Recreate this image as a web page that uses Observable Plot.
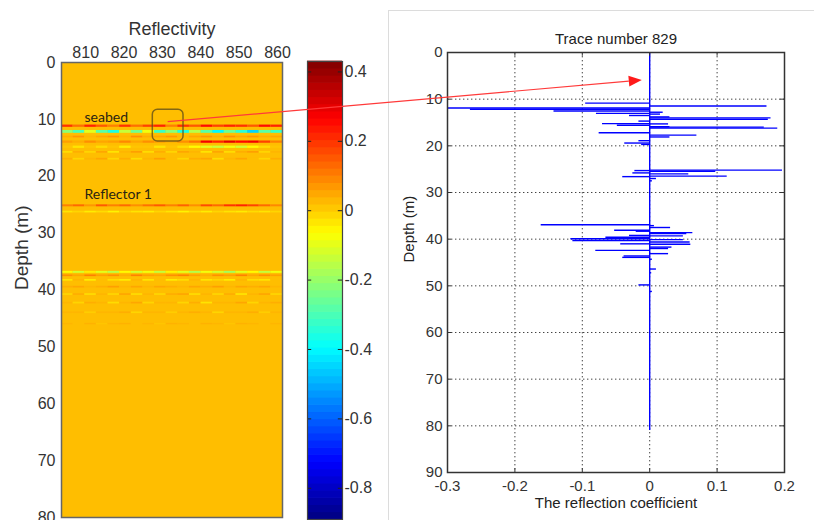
<!DOCTYPE html>
<html><head><meta charset="utf-8">
<script src="https://cdn.jsdelivr.net/npm/d3@7"></script>
<script src="https://cdn.jsdelivr.net/npm/@observablehq/plot@0.6"></script>
<style>
body{margin:0;background:#fff;}
#fig{position:relative;width:814px;height:520px;overflow:hidden;font-family:"Liberation Sans",Arial,sans-serif;}
#fig > *{position:absolute;}
</style></head><body><div id="fig"></div>
<script>
// ---------------- data ----------------
const traceNumber = 829;
const traceRange = [803.7, 861.3];
const depthRange = [0, 80];
const traceTicks = [810, 820, 830, 840, 850, 860];
const depthTicks = [0, 10, 20, 30, 40, 50, 60, 70, 80];
const backgroundReflectivity = 0.02;

// reflectivity section: horizontal streaks (depth, thickness, values across 19 trace segments)
const layerDepths    = [11.2, 12.2, 13.1, 14.0, 14.9, 15.8, 17.0, 25.2, 26.3, 36.9, 37.5, 38.3, 39.5, 40.8, 42.3, 44.0, 46.0];
const layerThickness = [0.4, 0.5, 0.3, 0.4, 0.4, 0.3, 0.3, 0.35, 0.3, 0.35, 0.3, 0.3, 0.3, 0.3, 0.3, 0.3, 0.25];
const layerValues = [
  [0.2,0.12,0.22,0.15,0.1,0.2,0.12,0.18,0.22,0.1,0.2,0.15,0.25,0.18,0.22,0.2,0.15,0.25,0.22],
  [-0.22,-0.3,-0.1,-0.28,-0.36,-0.14,-0.25,-0.08,-0.32,-0.22,-0.36,-0.16,-0.28,-0.4,-0.26,-0.34,-0.45,-0.28,-0.32],
  [0.04,0.07,0.03,0.05,0.07,0.03,0.08,0.04,0.05,0.07,0.03,0.05,0.07,0.04,0.08,0.05,0.07,0.04,0.05],
  [0.06,0.04,0.08,0.05,0.06,0.09,0.05,0.08,0.06,0.04,0.08,0.12,0.28,0.22,0.3,0.26,0.28,0.18,0.1],
  [0.01,-0.03,0.01,-0.02,0.01,-0.04,0.01,0.01,-0.03,0.01,-0.02,-0.06,-0.1,-0.13,-0.08,-0.12,-0.06,-0.02,0.01],
  [-0.02,0.04,-0.01,0.05,-0.03,0.03,0.06,-0.02,0.04,-0.01,0.05,0.03,-0.03,0.05,-0.02,0.04,0.06,-0.01,0.03],
  [0.04,-0.01,0.03,0.05,-0.01,0.04,-0.02,0.03,0.06,0.02,-0.01,0.04,0.05,-0.02,0.03,0.05,0.02,-0.01,0.04],
  [0.1,0.13,0.07,0.15,0.1,0.13,0.08,0.12,0.15,0.1,0.14,0.08,0.17,0.13,0.2,0.22,0.18,0.13,0.09],
  [-0.03,-0.01,-0.04,-0.02,-0.05,-0.01,-0.03,-0.04,-0.01,-0.03,-0.05,-0.02,-0.04,-0.01,-0.03,-0.04,-0.02,-0.03,-0.01],
  [-0.06,-0.12,-0.04,-0.1,-0.15,-0.06,-0.12,-0.08,-0.14,-0.05,-0.1,-0.16,-0.08,-0.12,-0.18,-0.1,-0.06,-0.14,-0.08],
  [0.08,0.05,0.1,0.06,0.08,0.04,0.1,0.06,0.05,0.08,0.1,0.06,0.04,0.08,0.06,0.1,0.05,0.08,0.06],
  [-0.03,0.03,-0.04,0.02,-0.02,-0.04,0.03,-0.03,0.02,-0.04,-0.02,0.03,-0.03,-0.01,-0.04,0.03,-0.02,-0.03,0.02],
  [0.04,0.05,0.03,0.04,0.06,0.03,0.05,0.03,0.05,0.04,0.03,0.05,0.04,0.06,0.03,0.05,0.04,0.05,0.03],
  [-0.01,0.04,-0.02,0.03,-0.01,0.05,-0.02,0.03,-0.01,0.04,0.05,-0.02,0.03,-0.01,0.04,-0.03,0.03,0.05,-0.01],
  [0.03,-0.01,0.04,0.03,-0.02,0.03,0.05,-0.01,0.03,0.03,-0.01,0.04,-0.03,0.03,0.03,0.05,-0.01,0.03,0.04],
  [0.03,0.03,0.0,0.03,0.03,0.04,-0.01,0.03,0.03,0.0,0.03,0.04,0.03,-0.01,0.03,0.03,0.04,0.0,0.03],
  [0.03,0.02,0.035,0.01,0.03,0.035,0.02,0.03,0.01,0.035,0.03,0.02,0.035,0.03,0.01,0.035,0.03,0.02,0.03]
];

// annotations on the section
const sectionLabels = ["seabed", "Reflector 1"];
const sectionLabelTrace = [809.7, 809.7];
const sectionLabelDepth = [9.6, 23.2];
const boxTrace = [827.5, 835.5];
const boxDepth = [8.3, 13.9];
const arrowFrom = {trace: 831.5, depth: 10.5};
const arrowTo = {coef: -0.011, depth: 6.0};

// colorbar
const colorDomain = [-0.89, 0.43];
const colorbarTicks = [-0.8, -0.6, -0.4, -0.2, 0, 0.2, 0.4];
const colorLevels = 64;
const jetStops = ["#000080","#0000ff","#0080ff","#00ffff","#80ff80","#ffff00","#ff8000","#ff0000","#800000"];

// trace 829 reflection coefficients
const spikeDepth = [10.85, 11.45, 11.9, 12.15, 12.55, 12.8, 13.05, 13.2, 13.5, 13.8, 14.0, 14.3, 14.7, 15.25, 15.3, 15.6, 15.9, 16.0, 16.2, 17.2, 17.7, 18.1, 18.9, 19.4, 19.7,
  25.2, 25.3, 25.45, 25.8, 26.0, 26.5, 26.6, 27.0, 27.5,
  36.9, 37.1, 37.5, 38.1, 38.3, 38.6, 38.8, 39.2, 39.3, 39.6, 39.9, 40.1, 40.3, 40.6, 41.0, 41.1, 41.7, 42.0, 42.4, 43.1, 43.6, 43.9, 44.3, 46.4, 47.2, 49.8, 51.2];
const spikeCoef = [-0.095, 0.174, -0.3, -0.266, -0.142, 0.02, -0.079, 0.016, -0.03, 0.03, 0.18, 0.176, -0.016, -0.07, 0.028, -0.048, 0.03, 0.17, 0.19, -0.075, 0.07, 0.03, -0.016, -0.037, -0.012,
  0.197, -0.022, 0.098, -0.025, 0.058, 0.115, -0.04, 0.01, 0.004,
  -0.161, 0.007, 0.031, -0.052, -0.02, 0.064, 0.055, -0.03, 0.05, -0.065, -0.117, 0.05, -0.114, 0.06, -0.043, 0.061, 0.033, 0.028, -0.08, 0.028, -0.038, -0.04, 0.004, 0.01, 0.003, -0.016, 0.004];
const traceEndDepth = 81;
const coefRange = [-0.3, 0.2];
const coefTicks = [-0.3, -0.2, -0.1, 0, 0.1, 0.2];
const traceDepthRange = [0, 90];
const traceDepthTicks = [0, 10, 20, 30, 40, 50, 60, 70, 80, 90];

// ---------------- build ----------------
const fig = document.getElementById("fig");
const FONT = "'Liberation Sans', Arial, sans-serif";
const jet = d3.piecewise(d3.interpolateRgb, jetStops);
const colorOpts = {type: "linear", domain: colorDomain, interpolate: jet};

const nSeg = layerValues[0].length;
const segW = (traceRange[1] - traceRange[0]) / nSeg;
const cells = layerDepths.flatMap((d, i) => layerValues[i].map((v, j) => ({
  x1: traceRange[0] + j * segW, x2: traceRange[0] + (j + 1) * segW,
  y1: d - layerThickness[i] / 2, y2: d + layerThickness[i] / 2, v
})));

const heat = Plot.plot({
  width: 300, height: 520,
  marginLeft: 61, marginRight: 18, marginTop: 62, marginBottom: 3,
  x: {domain: traceRange, axis: "top", ticks: traceTicks, tickSize: 0, tickPadding: 5, label: null},
  y: {domain: depthRange, reverse: true, ticks: depthTicks, tickSize: 0, tickPadding: 6, label: null},
  color: colorOpts,
  style: {fontSize: "16px", fontFamily: FONT, color: "#333", background: "transparent", overflow: "visible"},
  marks: [
    Plot.rect([backgroundReflectivity], {x1: () => traceRange[0], x2: () => traceRange[1], y1: () => depthRange[0], y2: () => depthRange[1], fill: d => d}),
    Plot.rect(cells, {x1: "x1", x2: "x2", y1: "y1", y2: "y2", fill: "v"}),
    Plot.rect([0], {x1: () => boxTrace[0], x2: () => boxTrace[1], y1: () => boxDepth[0], y2: () => boxDepth[1], rx: 5, fill: "none", stroke: "#5a4a1a", strokeOpacity: 0.75, strokeWidth: 1.5}),
    Plot.text(sectionLabels, {x: (d, i) => sectionLabelTrace[i], y: (d, i) => sectionLabelDepth[i], text: d => d, textAnchor: "start", fontSize: 14, fontFamily: "Lato, 'Open Sans', sans-serif", fill: "#2a2412"}),
    Plot.frame({stroke: "#666", strokeWidth: 1.5}),
    Plot.text(["Reflectivity"], {frameAnchor: "top", dy: -40, fontSize: 18, fill: "#333"}),
    Plot.text(["Depth (m)"], {frameAnchor: "left", rotate: -90, dx: -40, fontSize: 19, fill: "#333"})
  ]
});
heat.style.left = "0px"; heat.style.top = "0px";
fig.appendChild(heat);

const step = (colorDomain[1] - colorDomain[0]) / colorLevels;
const levels = d3.range(colorLevels).map(i => colorDomain[0] + (i + 0.5) * step);
const cbar = Plot.plot({
  width: 100, height: 520,
  marginLeft: 17, marginRight: 48, marginTop: 61, marginBottom: 1,
  x: {domain: [0, 1], axis: null},
  y: {domain: colorDomain, axis: "right", ticks: colorbarTicks, tickSize: 0, tickPadding: 2, tickFormat: d => String(d), label: null},
  color: colorOpts,
  style: {fontSize: "16px", fontFamily: FONT, color: "#333", background: "transparent", overflow: "visible"},
  marks: [
    Plot.rect(levels, {x1: () => 0, x2: () => 1, y1: d => d - step / 2 - 0.001, y2: d => d + step / 2 + 0.001, fill: d => d}),
    Plot.ruleY(colorbarTicks, {y: d => d, x1: () => 0, x2: () => 0.12, stroke: "#222"}),
    Plot.ruleY(colorbarTicks, {y: d => d, x1: () => 0.88, x2: () => 1, stroke: "#222"}),
    Plot.frame({stroke: "#444", strokeWidth: 1.2})
  ]
});
cbar.style.left = "290px"; cbar.style.top = "0px";
fig.appendChild(cbar);

// right panel border
const border = document.createElement("div");
Object.assign(border.style, {left: "388px", top: "10px", width: "440px", height: "520px", border: "1px solid #dcdcdc"});
fig.appendChild(border);

const spikes = spikeDepth.map((d, i) => ({depth: d, coef: spikeCoef[i]}));
const xGrid = coefTicks.slice(1, -1);
const yGrid = traceDepthTicks.slice(1, -1);
const tickLenX = (coefRange[1] - coefRange[0]) * 0.012;
const tickLenY = (traceDepthRange[1] - traceDepthRange[0]) * 0.009;
const dotted = {stroke: "#222", strokeOpacity: 0.85, strokeDasharray: "1.4,2.6", strokeWidth: 1};
const trace = Plot.plot({
  width: 424, height: 520,
  marginLeft: 57, marginRight: 30, marginTop: 52, marginBottom: 48,
  x: {domain: coefRange, ticks: coefTicks, tickSize: 0, tickPadding: 8, tickFormat: d => String(d), label: null},
  y: {domain: traceDepthRange, reverse: true, ticks: traceDepthTicks, tickSize: 0, tickPadding: 5, label: null},
  style: {fontSize: "15px", fontFamily: FONT, color: "#333", background: "transparent", overflow: "visible"},
  marks: [
    Plot.ruleX(xGrid, {x: d => d, ...dotted}),
    Plot.ruleY(yGrid, {y: d => d, ...dotted}),
    Plot.ruleX([0], {x: d => d, y1: () => traceDepthRange[0], y2: () => traceEndDepth, stroke: "#0000ff", strokeWidth: 1.4}),
    Plot.ruleY(spikes, {y: "depth", x1: () => 0, x2: "coef", stroke: "#0000ff", strokeWidth: 1.4}),
    Plot.ruleX(coefTicks, {x: d => d, y1: () => traceDepthRange[0], y2: () => traceDepthRange[0] + tickLenY, stroke: "#333"}),
    Plot.ruleX(coefTicks, {x: d => d, y1: () => traceDepthRange[1] - tickLenY, y2: () => traceDepthRange[1], stroke: "#333"}),
    Plot.ruleY(traceDepthTicks, {y: d => d, x1: () => coefRange[0], x2: () => coefRange[0] + tickLenX, stroke: "#333"}),
    Plot.ruleY(traceDepthTicks, {y: d => d, x1: () => coefRange[1] - tickLenX, x2: () => coefRange[1], stroke: "#333"}),
    Plot.frame({stroke: "#333", strokeWidth: 1.5}),
    Plot.text([`Trace number ${traceNumber}`], {frameAnchor: "top", dy: -19, fontSize: 15, fill: "#222"}),
    Plot.text(["The reflection coefficient"], {frameAnchor: "bottom", dy: 35, fontSize: 15, fill: "#222"}),
    Plot.text(["Depth (m)"], {frameAnchor: "left", rotate: -90, dx: -38, fontSize: 15, fill: "#222"})
  ]
});
trace.style.left = "390px"; trace.style.top = "0px";
fig.appendChild(trace);

// arrow linking the section to the trace
const sx = heat.scale("x").apply(arrowFrom.trace), sy = heat.scale("y").apply(arrowFrom.depth);
const ex = trace.scale("x").apply(arrowTo.coef) + 390, ey = trace.scale("y").apply(arrowTo.depth);
const len = Math.hypot(ex - sx, ey - sy), ux = (ex - sx) / len, uy = (ey - sy) / len;
const hl = 13, hw = 5.5;
const bx = ex - ux * hl, by = ey - uy * hl;
const ov = d3.create("svg").attr("width", 814).attr("height", 520).style("left", "0px").style("top", "0px").style("pointer-events", "none");
ov.append("line").attr("x1", sx).attr("y1", sy).attr("x2", bx).attr("y2", by).attr("stroke", "#ff3a3a").attr("stroke-width", 1.2);
ov.append("polygon").attr("points", [[ex, ey], [bx - uy * hw, by + ux * hw], [bx + uy * hw, by - ux * hw]].map(p => p.join(",")).join(" ")).attr("fill", "#ff1a1a");
fig.appendChild(ov.node());
</script>
</body></html>
